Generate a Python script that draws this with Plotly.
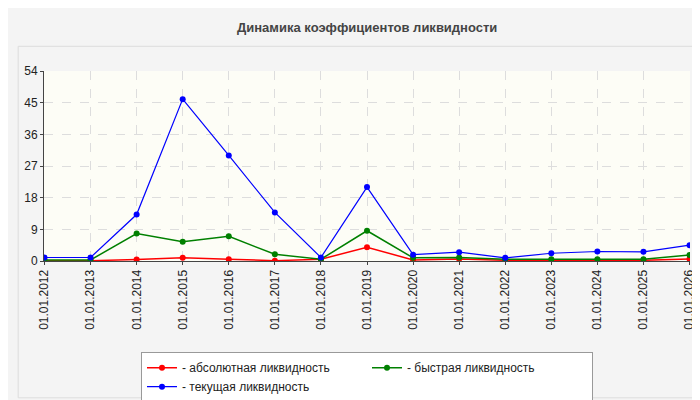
import plotly.graph_objects as go

dates = ["01.01.2012","01.01.2013","01.01.2014","01.01.2015","01.01.2016","01.01.2017","01.01.2018","01.01.2019","01.01.2020","01.01.2021","01.01.2022","01.01.2023","01.01.2024","01.01.2025","01.01.2026"]
absolute = [0.1,0.1,0.4,0.9,0.5,0.1,0.5,3.9,0.3,0.6,0.2,0.2,0.2,0.2,0.6]
quick = [0.3,0.3,7.8,5.5,7.0,1.9,0.5,8.6,0.9,1.0,0.5,0.5,0.5,0.5,1.7]
current = [1.0,1.0,13.2,46.0,30.0,13.8,1.0,21.0,1.8,2.5,0.9,2.2,2.7,2.6,4.5]

names = ["- абсолютная ликвидность","- быстрая ликвидность","- текущая ликвидность"]
colors = ["#ff0000","#008000","#0000ff"]
fig = go.Figure()
for n, c, v in zip(names, colors, [absolute, quick, current]):
    fig.add_trace(go.Scatter(x=dates, y=v, name=n, mode="lines+markers",
                             line=dict(color=c, width=1.5 if c!="#0000ff" else 1.2),
                             marker=dict(size=6, color=c)))
fig.update_layout(
    width=700, height=400, margin=dict(l=36, r=18, t=63, b=147, autoexpand=False),
    paper_bgcolor="#f4f4f4", plot_bgcolor="#fdfdf6",
    font=dict(family="Liberation Sans", size=12, color="#222"),
    showlegend=True,
    legend=dict(orientation="h", x=0.5, xanchor="center", y=-0.48, yanchor="top",
                bgcolor="white", bordercolor="#999", borderwidth=1, font=dict(size=12),
                entrywidth=180),
    annotations=[dict(text="<b>Динамика коэффициентов ликвидности</b>", xref="paper", yref="paper",
                      x=0.5, y=(253-20)/190+0, yanchor="middle", showarrow=False,
                      font=dict(size=13, color="#444"))],
    shapes=[dict(type="rect", xref="paper", yref="paper", x0=-0.04, x1=1.012, y0=-0.72, y1=1.13,
                 line=dict(color="#dddddd", width=1), fillcolor="rgba(0,0,0,0)", layer="below")],
)
fig.layout.annotations[0].y = (253-20-63)/190 + 0  # placeholder replaced below
fig.layout.annotations[0].y = (253-20)/190 - 0  # title 20px from top
fig.update_xaxes(tickangle=-90, showgrid=True, gridcolor="#dddddd", griddash="dash", automargin=False,
                 showline=True, linecolor="#444", ticks="outside", ticklen=3, range=[-0.01, 14.01],
                 tickfont=dict(size=12, color="#222"))
fig.update_yaxes(range=[0,54], tickvals=[0,9,18,27,36,45,54], showgrid=True, gridcolor="#dddddd",
                 griddash="dash", showline=True, linecolor="#444", ticks="outside", ticklen=3,
                 zeroline=False, automargin=False, tickfont=dict(size=12, color="#222"))
fig.write_html("out.html")
